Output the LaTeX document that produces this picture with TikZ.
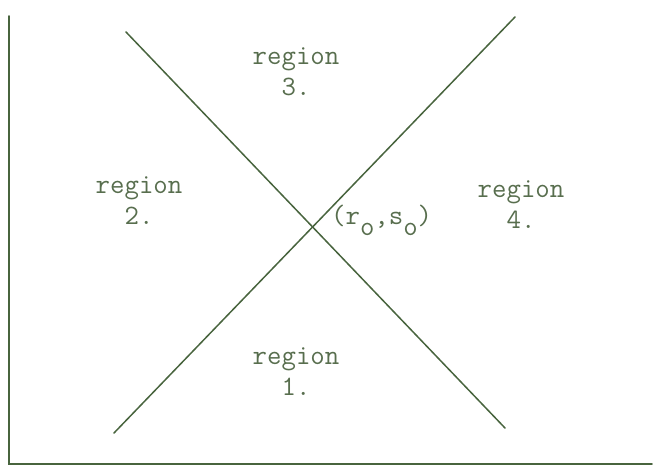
\documentclass[tikz,border=0pt]{standalone}
\usepackage{tikz}
\definecolor{inkgreen}{RGB}{72,100,62}
\definecolor{textgreen}{RGB}{88,110,78}
\tikzset{
  stroke/.style={draw=inkgreen,line width=1.8pt,line cap=round},
  regionlabel/.style={text=textgreen,inner sep=0pt,align=center,
    font=\fontsize{28}{31}\selectfont\ttfamily},
}
\newcommand{\lowo}{\raisebox{-11pt}{o}}
\begin{document}
\begin{tikzpicture}[x=1pt,y=-1pt]
\useasboundingbox (0,0) rectangle (657,470);

% axes
\coordinate (top) at (9,16);
\coordinate (origin) at (9,464);
\coordinate (right) at (652,464);
\draw[stroke] (top) -- (origin) -- (right);

% the two crossing lines
\coordinate (a1) at (126,32);
\coordinate (a2) at (505,428);
\coordinate (b1) at (114,433);
\coordinate (b2) at (515,17);
\draw[stroke,line width=1.5pt] (a1) -- (a2);
\draw[stroke,line width=1.5pt] (b1) -- (b2);

% labels
\node[regionlabel] (reg3) at (296,72) {region\\3.};
\node[regionlabel] (reg2) at (139,201) {region\\2.};
\node[regionlabel] (reg4) at (521,205) {region\\4.};
\node[regionlabel] (reg1) at (296,372) {region\\1.};
\node[regionlabel,anchor=base west] (pt) at (331,225) {(r\lowo,s\lowo)};
\end{tikzpicture}
\end{document}
